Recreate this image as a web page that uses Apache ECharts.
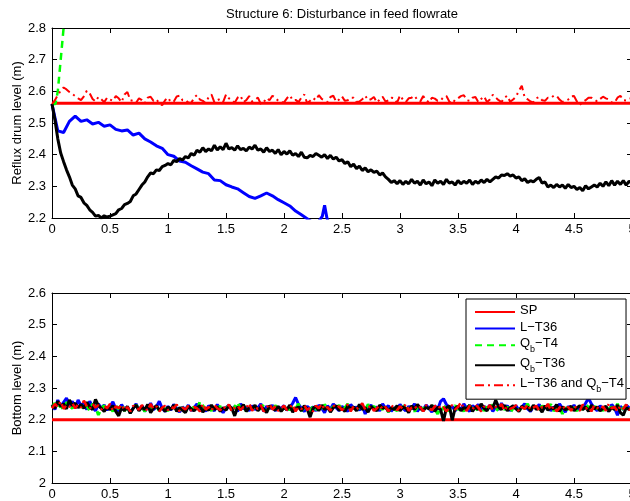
<!DOCTYPE html>
<html>
<head>
<meta charset="utf-8">
<script src="https://cdn.jsdelivr.net/npm/echarts@6/dist/echarts.min.js"></script>
<style>html,body{margin:0;padding:0;background:#fff}#c{width:630px;height:501px}</style>
</head>
<body>
<div id="c"></div>
<script>
// ---------- data ----------
const titleText = 'Structure 6: Disturbance in feed flowrate';
const legendNames = ['SP', 'L\u2212T36', 'Qb\u2212T4', 'Qb\u2212T36', 'L\u2212T36 and Qb\u2212T4'];
const xTicks = [0, 0.5, 1, 1.5, 2, 2.5, 3, 3.5, 4, 4.5, 5];
const fineStep = 0.025;  // sampling interval of the noisy traces (x units)

// top plot: reflux drum level
const topSP = 2.562;
const topGreenT = [0, 0.03, 0.05, 0.07, 0.09, 0.11];
const topGreenY = [2.56, 2.56, 2.60, 2.68, 2.76, 2.84];
const topBlueT = [0,0.05,0.1,0.15,0.2,0.25,0.3,0.35,0.4,0.45,0.5,0.55,0.6,0.65,0.7,0.75,0.8,0.85,0.9,0.95,
  1,1.05,1.1,1.15,1.2,1.25,1.3,1.35,1.4,1.45,1.5,1.55,1.6,1.65,1.7,1.75,1.8,1.85,1.9,1.95,
  2,2.05,2.1,2.15,2.2,2.25,2.3,2.33,2.35,2.37,2.4];
const topBlueY = [2.56,2.475,2.47,2.505,2.522,2.505,2.51,2.497,2.502,2.49,2.494,2.48,2.475,2.478,2.462,2.468,2.45,2.44,2.428,2.42,
  2.4,2.395,2.38,2.376,2.365,2.355,2.345,2.34,2.32,2.318,2.305,2.298,2.292,2.28,2.268,2.262,2.27,2.279,2.27,2.258,
  2.248,2.238,2.222,2.21,2.198,2.185,2.19,2.205,2.24,2.2,2.17];
const topBlackY = [2.56,2.51,2.45,2.405,2.378,2.352,2.33,2.304,2.292,2.27,
  2.265,2.248,2.24,2.226,2.218,2.206,2.208,2.2,2.207,2.203,
  2.206,2.21,2.214,2.226,2.23,2.242,2.246,2.252,2.27,2.276,
  2.29,2.304,2.314,2.33,2.342,2.34,2.352,2.35,2.362,2.366,
  2.372,2.368,2.382,2.378,2.388,2.383,2.394,2.39,2.404,2.398,
  2.414,2.408,2.422,2.41,2.418,2.412,2.43,2.415,2.425,2.416,
  2.436,2.418,2.422,2.414,2.428,2.416,2.42,2.412,2.424,2.418,
  2.43,2.414,2.418,2.408,2.422,2.41,2.414,2.404,2.416,2.4,
  2.41,2.402,2.412,2.398,2.404,2.394,2.408,2.392,2.39,2.398,
  2.394,2.404,2.398,2.392,2.4,2.388,2.398,2.386,2.392,2.38,
  2.384,2.372,2.378,2.362,2.37,2.356,2.364,2.35,2.358,2.346,
  2.352,2.344,2.348,2.336,2.342,2.33,2.322,2.312,2.318,2.308,
  2.318,2.306,2.316,2.308,2.322,2.31,2.316,2.304,2.32,2.308,
  2.314,2.302,2.32,2.31,2.316,2.306,2.322,2.31,2.314,2.304,
  2.318,2.308,2.316,2.31,2.32,2.306,2.316,2.31,2.32,2.312,
  2.322,2.314,2.322,2.33,2.326,2.336,2.334,2.34,2.332,2.336,
  2.326,2.33,2.318,2.324,2.312,2.318,2.314,2.322,2.328,2.31,
  2.314,2.298,2.304,2.296,2.306,2.298,2.304,2.294,2.306,2.296,
  2.3,2.29,2.296,2.286,2.302,2.292,2.298,2.304,2.298,2.31,
  2.3,2.314,2.302,2.318,2.304,2.316,2.306,2.318,2.304,2.316,
  2.31];
const topRedY = [2.56,2.572,2.588,2.602,2.612,2.606,2.598,2.592,2.585,2.578,
  2.572,2.584,2.602,2.594,2.576,2.568,2.582,2.575,2.566,2.58,
  2.574,2.57,2.585,2.578,2.566,2.59,2.598,2.572,2.57,2.564,
  2.578,2.572,2.562,2.58,2.583,2.57,2.575,2.562,2.556,2.572,
  2.58,2.566,2.568,2.584,2.586,2.572,2.573,2.565,2.563,2.58,
  2.588,2.574,2.57,2.562,2.582,2.59,2.565,2.572,2.576,2.566,
  2.59,2.578,2.572,2.564,2.58,2.586,2.566,2.572,2.585,2.568,
  2.574,2.58,2.56,2.566,2.579,2.572,2.586,2.58,2.57,2.566,
  2.565,2.578,2.587,2.572,2.573,2.566,2.58,2.59,2.562,2.57,
  2.579,2.572,2.588,2.576,2.571,2.566,2.582,2.586,2.567,2.574,
  2.584,2.57,2.572,2.58,2.58,2.566,2.568,2.575,2.586,2.572,
  2.575,2.582,2.565,2.574,2.583,2.568,2.571,2.58,2.578,2.564,
  2.587,2.574,2.566,2.578,2.58,2.586,2.573,2.568,2.585,2.572,
  2.565,2.58,2.577,2.57,2.571,2.582,2.585,2.568,2.56,2.574,
  2.578,2.585,2.588,2.572,2.57,2.58,2.582,2.566,2.576,2.584,
  2.566,2.574,2.589,2.58,2.572,2.566,2.58,2.586,2.567,2.574,
  2.583,2.602,2.618,2.58,2.575,2.568,2.565,2.578,2.582,2.572,
  2.57,2.58,2.579,2.586,2.586,2.574,2.566,2.57,2.574,2.584,
  2.585,2.568,2.557,2.566,2.572,2.58,2.58,2.574,2.568,2.576,
  2.583,2.578,2.574,2.565,2.565,2.58,2.586,2.572,2.571,2.576,
  2.579];

// bottom plot: bottom level
const botSP = 2.2;
const botBlueY = [2.248,2.232,2.262,2.24,2.255,2.268,2.245,2.258,2.236,2.262,
  2.244,2.252,2.232,2.258,2.24,2.228,2.25,2.236,2.246,2.23,
  2.242,2.256,2.234,2.226,2.248,2.232,2.24,2.222,2.236,2.25,
  2.23,2.244,2.226,2.238,2.252,2.232,2.24,2.258,2.236,2.226,
  2.242,2.23,2.248,2.236,2.224,2.24,2.232,2.246,2.228,2.238,
  2.25,2.232,2.24,2.226,2.244,2.236,2.228,2.248,2.234,2.222,
  2.238,2.246,2.23,2.242,2.226,2.25,2.234,2.24,2.228,2.244,
  2.232,2.238,2.25,2.226,2.242,2.234,2.246,2.228,2.24,2.236,
  2.244,2.23,2.238,2.252,2.27,2.248,2.236,2.226,2.242,2.234,
  2.24,2.228,2.246,2.236,2.222,2.244,2.232,2.25,2.238,2.228,
  2.242,2.234,2.226,2.248,2.236,2.24,2.23,2.244,2.218,2.238,
  2.246,2.232,2.24,2.228,2.25,2.236,2.244,2.226,2.238,2.232,
  2.248,2.236,2.228,2.242,2.234,2.25,2.226,2.24,2.232,2.246,
  2.236,2.224,2.244,2.232,2.258,2.266,2.248,2.236,2.242,2.228,
  2.24,2.232,2.25,2.236,2.226,2.244,2.238,2.248,2.23,2.242,
  2.234,2.246,2.226,2.24,2.232,2.252,2.236,2.244,2.228,2.238,
  2.244,2.23,2.24,2.25,2.234,2.226,2.242,2.236,2.248,2.23,
  2.238,2.246,2.228,2.24,2.232,2.25,2.236,2.224,2.242,2.234,
  2.246,2.23,2.24,2.236,2.252,2.268,2.25,2.238,2.228,2.244,
  2.232,2.24,2.226,2.248,2.236,2.214,2.242,2.232,2.246,2.238,
  2.232];
const botGreenY = [2.24,2.252,2.236,2.246,2.23,2.255,2.242,2.236,2.25,2.238,
  2.246,2.232,2.244,2.228,2.25,2.24,2.215,2.236,2.244,2.23,
  2.238,2.226,2.244,2.234,2.25,2.228,2.24,2.222,2.236,2.246,
  2.232,2.24,2.226,2.248,2.236,2.23,2.244,2.228,2.238,2.234,
  2.228,2.242,2.236,2.25,2.23,2.238,2.224,2.246,2.234,2.24,
  2.226,2.258,2.244,2.232,2.238,2.228,2.25,2.236,2.242,2.23,
  2.236,2.244,2.228,2.24,2.255,2.232,2.246,2.226,2.238,2.234,
  2.242,2.23,2.236,2.248,2.226,2.24,2.232,2.244,2.236,2.228,
  2.238,2.246,2.23,2.242,2.234,2.25,2.228,2.24,2.236,2.224,
  2.244,2.232,2.24,2.226,2.248,2.236,2.23,2.242,2.234,2.246,
  2.228,2.238,2.25,2.232,2.24,2.226,2.244,2.236,2.23,2.248,
  2.236,2.242,2.228,2.238,2.232,2.246,2.224,2.24,2.234,2.228,
  2.244,2.236,2.25,2.23,2.24,2.226,2.238,2.246,2.232,2.24,
  2.228,2.244,2.236,2.218,2.24,2.232,2.248,2.226,2.238,2.244,
  2.232,2.24,2.226,2.25,2.236,2.242,2.23,2.238,2.246,2.228,
  2.24,2.234,2.248,2.226,2.238,2.244,2.232,2.24,2.222,2.236,
  2.246,2.228,2.238,2.234,2.25,2.23,2.242,2.236,2.226,2.244,
  2.232,2.24,2.248,2.228,2.236,2.244,2.218,2.238,2.232,2.246,
  2.236,2.228,2.244,2.232,2.25,2.238,2.226,2.242,2.234,2.24,
  2.228,2.246,2.236,2.24,2.232,2.25,2.226,2.238,2.244,2.232,
  2.24];
const botBlackY = [2.246,2.236,2.258,2.242,2.25,2.234,2.262,2.244,2.252,2.238,
  2.248,2.236,2.255,2.24,2.232,2.264,2.244,2.236,2.226,2.24,
  2.232,2.244,2.226,2.212,2.238,2.228,2.242,2.22,2.236,2.246,
  2.228,2.24,2.232,2.248,2.222,2.236,2.244,2.23,2.238,2.226,
  2.24,2.232,2.246,2.226,2.238,2.23,2.222,2.242,2.234,2.228,
  2.238,2.244,2.224,2.236,2.23,2.246,2.232,2.24,2.226,2.238,
  2.23,2.244,2.236,2.212,2.24,2.232,2.248,2.226,2.238,2.234,
  2.246,2.228,2.24,2.234,2.222,2.244,2.236,2.23,2.242,2.226,
  2.238,2.232,2.246,2.224,2.236,2.24,2.228,2.244,2.234,2.208,
  2.236,2.242,2.228,2.246,2.232,2.24,2.224,2.238,2.244,2.23,
  2.236,2.226,2.244,2.234,2.24,2.228,2.248,2.232,2.238,2.224,
  2.242,2.234,2.228,2.246,2.236,2.24,2.226,2.238,2.232,2.244,
  2.228,2.24,2.236,2.222,2.244,2.232,2.248,2.236,2.228,2.24,
  2.234,2.246,2.226,2.24,2.232,2.196,2.238,2.244,2.198,2.236,
  2.242,2.228,2.238,2.234,2.246,2.226,2.24,2.232,2.25,2.236,
  2.228,2.244,2.236,2.262,2.24,2.232,2.246,2.228,2.238,2.244,
  2.234,2.226,2.242,2.236,2.24,2.228,2.246,2.232,2.238,2.224,
  2.244,2.23,2.238,2.234,2.248,2.226,2.24,2.232,2.236,2.242,
  2.228,2.238,2.244,2.232,2.24,2.226,2.246,2.234,2.24,2.228,
  2.236,2.242,2.226,2.238,2.232,2.246,2.222,2.214,2.238,2.232,
  2.236];
const botRedY = [2.236,2.25,2.24,2.258,2.234,2.246,2.24,2.252,2.236,2.248,
  2.238,2.26,2.242,2.234,2.25,2.238,2.246,2.232,2.244,2.236,
  2.25,2.228,2.242,2.236,2.248,2.23,2.24,2.226,2.244,2.236,
  2.232,2.246,2.238,2.228,2.25,2.234,2.242,2.226,2.238,2.244,
  2.23,2.24,2.236,2.248,2.226,2.238,2.232,2.244,2.228,2.24,
  2.236,2.226,2.25,2.232,2.24,2.228,2.246,2.236,2.23,2.242,
  2.234,2.248,2.226,2.238,2.244,2.23,2.24,2.236,2.252,2.228,
  2.24,2.234,2.246,2.226,2.238,2.25,2.232,2.242,2.228,2.236,
  2.244,2.23,2.238,2.248,2.226,2.24,2.234,2.246,2.23,2.238,
  2.226,2.244,2.236,2.25,2.232,2.24,2.228,2.246,2.236,2.242,
  2.23,2.238,2.248,2.226,2.242,2.234,2.24,2.252,2.232,2.238,
  2.244,2.228,2.236,2.246,2.232,2.24,2.226,2.244,2.238,2.23,
  2.242,2.234,2.25,2.228,2.238,2.244,2.232,2.24,2.226,2.246,
  2.236,2.23,2.242,2.248,2.234,2.24,2.226,2.238,2.246,2.232,
  2.24,2.255,2.236,2.228,2.244,2.232,2.248,2.238,2.226,2.242,
  2.234,2.246,2.23,2.24,2.236,2.25,2.228,2.242,2.234,2.238,
  2.246,2.226,2.24,2.234,2.248,2.232,2.238,2.244,2.228,2.24,
  2.236,2.25,2.23,2.242,2.226,2.238,2.246,2.232,2.24,2.228,
  2.244,2.236,2.228,2.248,2.234,2.24,2.226,2.246,2.238,2.232,
  2.242,2.228,2.25,2.236,2.24,2.226,2.244,2.234,2.248,2.23,
  2.238];

// ---------- helpers ----------
function onGrid(ys, step) { return ys.map((v, i) => [+(i * step).toFixed(4), v]); }
function pairs(ts, ys) { return ts.map((t, i) => [t, ys[i]]); }

const FONT = 'Liberation Sans, Arial, Helvetica, sans-serif';
const RED = '#ff0000', BLUE = '#0000ff', GREEN = '#00ff00', BLACK = '#000000';

function xAx(grid, pos) {
  return {
    type: 'value', gridIndex: grid, position: pos, min: 0, max: 5, interval: 0.5,
    axisLine: { show: true, onZero: false, lineStyle: { color: '#000', width: 1 } },
    axisTick: { show: true, inside: true, length: 5, lineStyle: { color: '#000' } },
    axisLabel: { show: pos === 'bottom', margin: 5, color: '#000', fontSize: 13, fontFamily: FONT,
      formatter: v => String(v) },
    splitLine: { show: false }
  };
}
function yAx(grid, pos, min, max, name) {
  return {
    type: 'value', gridIndex: grid, position: pos, min: min, max: max, interval: 0.1,
    name: pos === 'left' ? name : '', nameLocation: 'middle', nameGap: 28, nameRotate: 90,
    nameMoveOverlap: false,
    nameTextStyle: { color: '#000', fontSize: 13, fontFamily: FONT },
    axisLine: { show: true, onZero: false, lineStyle: { color: '#000', width: 1 } },
    axisTick: { show: true, inside: true, length: 5, lineStyle: { color: '#000' } },
    axisLabel: { show: pos === 'left', margin: 6, color: '#000', fontSize: 13, fontFamily: FONT,
      formatter: v => String(+v.toFixed(1)) },
    splitLine: { show: false }
  };
}
function line(name, data, xi, yi, color, width, type, z) {
  return {
    type: 'line', name: name, data: data, xAxisIndex: xi, yAxisIndex: yi,
    symbol: 'none', showSymbol: false, animation: false, clip: true, z: z,
    lineStyle: { color: color, width: width, type: type, opacity: 1 },
    itemStyle: { color: color }
  };
}

const DASH = [7, 5];
const DASHDOT = [9, 4, 2, 4];

const option = {
  backgroundColor: '#fff',
  animation: false,
  title: {
    text: titleText, left: 221, top: 3,
    textStyle: { fontSize: 13, fontWeight: 'normal', color: '#000', fontFamily: FONT }
  },
  grid: [
    { left: 52, top: 28, width: 580, height: 190, outerBoundsMode: 'none', containLabel: false },
    { left: 52, top: 293, width: 580, height: 190, outerBoundsMode: 'none', containLabel: false }
  ],
  xAxis: [xAx(0, 'bottom'), xAx(0, 'top'), xAx(1, 'bottom'), xAx(1, 'top')],
  yAxis: [
    yAx(0, 'left', 2.2, 2.8, 'Reflux drum level (m)'), yAx(0, 'right', 2.2, 2.8, ''),
    yAx(1, 'left', 2.0, 2.6, 'Bottom level (m)'), yAx(1, 'right', 2.0, 2.6, '')
  ],
  legend: {
    data: legendNames, orient: 'vertical', left: 466, top: 299,
    padding: [5, 2, 5, 8], itemGap: 3, itemWidth: 40, itemHeight: 14,
    backgroundColor: '#fff', borderColor: '#000', borderWidth: 1,
    selectedMode: false, z: 10,
    itemStyle: { opacity: 0 },
    formatter: function (n) {
      return n.split(/(Qb)/).filter(s => s).map(s => s === 'Qb' ? '{n|Q}{s|b}' : '{n|' + s + '}').join('');
    },
    textStyle: {
      color: '#000', fontFamily: FONT, fontSize: 13,
      rich: {
        n: { fontSize: 13, lineHeight: 16, fontFamily: FONT, color: '#000', verticalAlign: 'top' },
        s: { fontSize: 9, lineHeight: 8, padding: [8, 0, 0, 0], fontFamily: FONT, color: '#000', verticalAlign: 'top' }
      }
    }
  },
  series: [
    line(legendNames[0], [[0, topSP], [5, topSP]], 0, 0, RED, 3, 'solid', 2),
    line(legendNames[1], pairs(topBlueT, topBlueY), 0, 0, BLUE, 3, 'solid', 3),
    line(legendNames[2], pairs(topGreenT, topGreenY), 0, 0, GREEN, 2.5, DASH, 4),
    line(legendNames[3], onGrid(topBlackY, fineStep), 0, 0, BLACK, 3, 'solid', 5),
    line(legendNames[4], onGrid(topRedY, fineStep), 0, 0, RED, 2, DASHDOT, 6),

    line(legendNames[0], [[0, botSP], [5, botSP]], 2, 2, RED, 3, 'solid', 2),
    line(legendNames[1], onGrid(botBlueY, fineStep), 2, 2, BLUE, 3, 'solid', 3),
    line(legendNames[2], onGrid(botGreenY, fineStep), 2, 2, GREEN, 3, DASH, 4),
    line(legendNames[3], onGrid(botBlackY, fineStep), 2, 2, BLACK, 3, 'solid', 5),
    line(legendNames[4], onGrid(botRedY, fineStep), 2, 2, RED, 2.5, DASHDOT, 6)
  ]
};

const chart = echarts.init(document.getElementById('c'), null, { renderer: 'canvas' });
chart.setOption(option);
</script>
</body>
</html>
